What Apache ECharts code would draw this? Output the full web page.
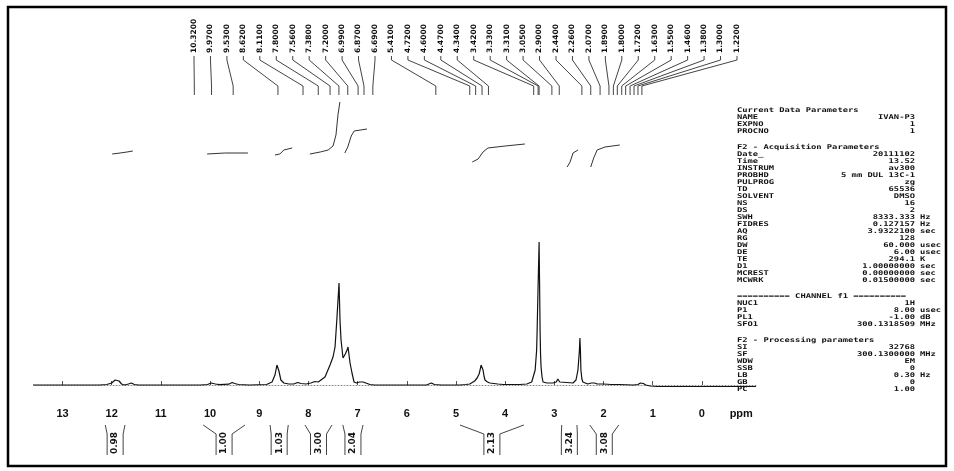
<!DOCTYPE html>
<html>
<head>
<meta charset="utf-8">
<script src="https://cdn.jsdelivr.net/npm/echarts@6/dist/echarts.min.js"></script>
<style>
  html, body { margin: 0; padding: 0; background: #fff; }
  #chart { width: 954px; height: 471px; }
</style>
</head>
<body>
<div id="chart"></div>
<script>
// 1H NMR trace: [ppm, intensity above baseline]
const SPECTRUM = [
  [13.6, 0], [12.25, 0], [12.1, 0.5], [12.0, 2], [11.93, 5], [11.89, 6], [11.85, 4], [11.8, 1],
  [11.74, 0], [11.66, 1], [11.6, 2], [11.54, 0.5], [11.45, 0], [10.2, 0], [10.05, 0.5], [9.98, 2],
  [9.94, 2.5], [9.89, 1], [9.8, 0.3], [9.62, 0.8], [9.55, 2.5], [9.5, 1.5], [9.42, 0.5], [9.2, 0],
  [8.85, 0.5], [8.74, 3], [8.68, 10], [8.64, 20], [8.62, 22], [8.6, 14], [8.56, 5], [8.5, 2],
  [8.4, 1], [8.3, 1], [8.22, 2.5], [8.15, 1.5], [8.05, 1], [7.95, 2], [7.87, 3.5], [7.8, 3],
  [7.764, 3], [7.663, 8], [7.561, 20], [7.5, 28], [7.459, 38], [7.419, 68], [7.378, 102],
  [7.358, 65], [7.337, 45], [7.297, 27], [7.25, 31], [7.215, 35], [7.195, 38], [7.154, 22],
  [7.114, 12], [7.073, 3], [7.02, 2], [6.96, 3], [6.93, 2], [6.89, 3], [6.85, 1], [6.75, 0.5],
  [6.65, 0], [5.6, 0], [5.5, 2], [5.44, 0.5], [5.3, 0], [4.92, 0], [4.8, 0.5], [4.72, 1],
  [4.62, 4], [4.57, 7], [4.53, 11], [4.51, 15], [4.49, 20], [4.47, 22], [4.45, 15], [4.43, 9],
  [4.41, 5], [4.36, 3], [4.31, 2], [4.15, 1], [4.04, 0.5], [3.7, 0.5], [3.56, 1], [3.46, 3],
  [3.39, 15], [3.36, 35], [3.35, 55], [3.33, 100], [3.31, 143], [3.30, 100], [3.29, 55],
  [3.28, 30], [3.27, 18], [3.25, 8], [3.23, 3], [3.15, 2], [3.03, 2], [2.96, 3], [2.93, 6],
  [2.91, 8], [2.89, 3], [2.85, 2.5], [2.75, 2.5], [2.62, 2], [2.56, 5], [2.52, 15], [2.49, 35],
  [2.48, 47], [2.47, 35], [2.46, 15], [2.44, 6], [2.42, 3], [2.37, 2], [2.32, 1], [2.25, 2],
  [2.22, 3], [2.18, 2], [2.13, 1], [2.0, 1], [1.85, 0.5], [1.67, 0.5], [1.4, 0], [1.3, 0.5],
  [1.25, 2], [1.22, 3], [1.19, 1.5], [1.14, 0], [1.05, -1], [0.9, -1.5], [0, -1.5], [-1.1, -1.5]
];

// integral traces, one run per region, null breaks between runs
const INTEGRAL_CURVE = [
  [11.99, 231], [11.83, 232], [11.69, 233], [11.57, 234], [null, null],
  [10.06, 231], [9.70, 232], [9.23, 232], [null, null],
  [8.68, 230], [8.58, 231], [8.50, 235], [8.33, 237], [null, null],
  [7.97, 231], [7.76, 233], [7.60, 235], [7.50, 239], [7.44, 250], [7.40, 270], [7.36, 283], [null, null],
  [7.26, 232], [7.20, 238], [7.13, 249], [7.07, 254], [6.81, 256], [null, null],
  [4.67, 223], [4.55, 226], [4.45, 233], [4.35, 237], [4.00, 239], [3.60, 241], [null, null],
  [2.74, 218], [2.68, 223], [2.62, 232], [2.52, 235], [null, null],
  [2.26, 218], [2.20, 227], [2.13, 235], [1.97, 238], [1.67, 240]
];

// picked peaks (ppm), in label order
const PEAK_PPM = [
  10.32, 9.97, 9.53, 8.62, 8.11, 7.80, 7.56, 7.38, 7.20, 6.99, 6.87, 6.69,
  5.41, 4.72, 4.60, 4.47, 4.34, 3.42, 3.33, 3.31, 3.05, 2.90,
  2.44, 2.26, 2.07, 1.89, 1.80, 1.72, 1.63, 1.55, 1.46, 1.38, 1.30, 1.22
];

// integrated regions [from ppm, to ppm] and their values
const INTEGRAL_RANGES = [
  [12.13, 11.73], [10.14, 9.29], [8.78, 8.41], [8.07, 7.52],
  [7.30, 6.89], [4.92, 3.62], [2.85, 2.54], [2.28, 1.69]
];
const INTEGRAL_VALUES = ["0.98", "1.00", "1.03", "3.00", "2.04", "2.13", "3.24", "3.08"];

const AXIS_TICKS = [13, 12, 11, 10, 9, 8, 7, 6, 5, 4, 3, 2, 1, 0];

const PARAM_ROWS = [
  ["Current Data Parameters"],
  ["NAME", "IVAN-P3", ""],
  ["EXPNO", "1", ""],
  ["PROCNO", "1", ""],
  [],
  ["F2 - Acquisition Parameters"],
  ["Date_", "20111102", ""],
  ["Time", "13.52", ""],
  ["INSTRUM", "av300", ""],
  ["PROBHD", "5 mm DUL 13C-1", ""],
  ["PULPROG", "zg", ""],
  ["TD", "65536", ""],
  ["SOLVENT", "DMSO", ""],
  ["NS", "16", ""],
  ["DS", "2", ""],
  ["SWH", "8333.333", "Hz"],
  ["FIDRES", "0.127157", "Hz"],
  ["AQ", "3.9322100", "sec"],
  ["RG", "128", ""],
  ["DW", "60.000", "usec"],
  ["DE", "6.00", "usec"],
  ["TE", "294.1", "K"],
  ["D1", "1.00000000", "sec"],
  ["MCREST", "0.00000000", "sec"],
  ["MCWRK", "0.01500000", "sec"],
  [],
  ["========== CHANNEL f1 =========="],
  ["NUC1", "1H", ""],
  ["P1", "8.00", "usec"],
  ["PL1", "-1.00", "dB"],
  ["SFO1", "300.1318509", "MHz"],
  [],
  ["F2 - Processing parameters"],
  ["SI", "32768", ""],
  ["SF", "300.1300000", "MHz"],
  ["WDW", "EM", ""],
  ["SSB", "0", ""],
  ["LB", "0.30", "Hz"],
  ["GB", "0", ""],
  ["PC", "1.00", ""]
];

const INK = "#111";
const PARAM_FONT = 'bold 6.5px "DejaVu Sans Mono"';
const PARAM_STRETCH = 1.35;
const MARK_FONT = 'bold 7.5px "DejaVu Sans"';

// parameter block on the right
function paramGraphics() {
  const out = [];
  let y = 110;
  const txt = (x, text, align) => ({
    type: "text", x, y, scaleX: PARAM_STRETCH,
    style: { text, font: PARAM_FONT, fill: INK, align: align || "left", verticalAlign: "middle" }
  });
  for (const row of PARAM_ROWS) {
    if (row.length === 0) { y += 9; continue; }
    out.push(txt(737, row[0]));
    if (row.length > 1) {
      out.push(txt(915, row[1], "right"));
      if (row[2]) out.push(txt(920, row[2]));
    }
    y += 7;
  }
  return out;
}

const LABEL_X0 = 194, LABEL_X1 = 737;

const chart = echarts.init(document.getElementById("chart"));
chart.setOption({
  animation: false,
  backgroundColor: "#fff",
  grid: { left: 33, right: 198, top: 20, bottom: 69 },
  xAxis: {
    type: "value",
    inverse: true,
    min: -1.1,
    max: 13.6,
    axisLine: { show: true, lineStyle: { color: "#888", width: 1, type: [1, 2] } },
    axisTick: { show: true, inside: true, length: 4, customValues: AXIS_TICKS, lineStyle: { color: "#555" } },
    axisLabel: {
      customValues: AXIS_TICKS.concat([-0.8]),
      formatter: (v) => (v < 0 ? "ppm" : String(v)),
      color: INK, fontSize: 11, fontWeight: "bold", fontFamily: "Liberation Sans", margin: 6
    },
    splitLine: { show: false }
  },
  yAxis: { type: "value", min: -17, max: 365, show: false, splitLine: { show: false } },
  series: [
    {
      name: "spectrum", type: "line", data: SPECTRUM, showSymbol: false, symbol: "none",
      lineStyle: { color: INK, width: 1.2 }, z: 3
    },
    {
      name: "integral", type: "line", data: INTEGRAL_CURVE, showSymbol: false, symbol: "none",
      connectNulls: false, lineStyle: { color: "#333", width: 1 }
    },
    {
      // peak picking labels along the top
      name: "peaks", type: "custom", clip: false,
      data: PEAK_PPM.map((p, i) => [p, i]),
      renderItem: (params, api) => {
        const px = api.coord([api.value(0), 0])[0];
        const i = api.value(1);
        const lx = LABEL_X0 + i * (LABEL_X1 - LABEL_X0) / (PEAK_PPM.length - 1);
        return {
          type: "group",
          children: [
            { type: "text", x: lx, y: 53, rotation: Math.PI / 2,
              style: { text: PEAK_PPM[i].toFixed(4), font: MARK_FONT, fill: INK, align: "left", verticalAlign: "middle" } },
            { type: "polyline", shape: { points: [[lx, 56], [lx, 60], [px, 86], [px, 95]] },
              style: { stroke: "#444", lineWidth: 1, fill: null } }
          ]
        };
      }
    },
    {
      // integral brackets under the axis
      name: "integrals", type: "custom", clip: false,
      data: INTEGRAL_RANGES.map((r, i) => [r[0], r[1], i]),
      renderItem: (params, api) => {
        const x0 = api.coord([api.value(0), 0])[0];
        const x1 = api.coord([api.value(1), 0])[0];
        const cx = (x0 + x1) / 2;
        return {
          type: "group",
          children: [
            { type: "polyline", shape: { points: [[x0, 425], [cx - 8, 434], [cx - 8, 455]] }, style: { stroke: "#444", lineWidth: 1, fill: null } },
            { type: "polyline", shape: { points: [[x1, 425], [cx + 8, 434], [cx + 8, 455]] }, style: { stroke: "#444", lineWidth: 1, fill: null } },
            { type: "text", x: cx, y: 443, rotation: Math.PI / 2,
              style: { text: INTEGRAL_VALUES[api.value(2)], font: 'bold 9px "DejaVu Sans"', fill: INK, align: "center", verticalAlign: "middle" } }
          ]
        };
      }
    }
  ],
  graphic: [
    { type: "rect", shape: { x: 8, y: 7, width: 938, height: 459 }, style: { fill: null, stroke: "#000", lineWidth: 2.5 } }
  ].concat(paramGraphics())
});
</script>
</body>
</html>
